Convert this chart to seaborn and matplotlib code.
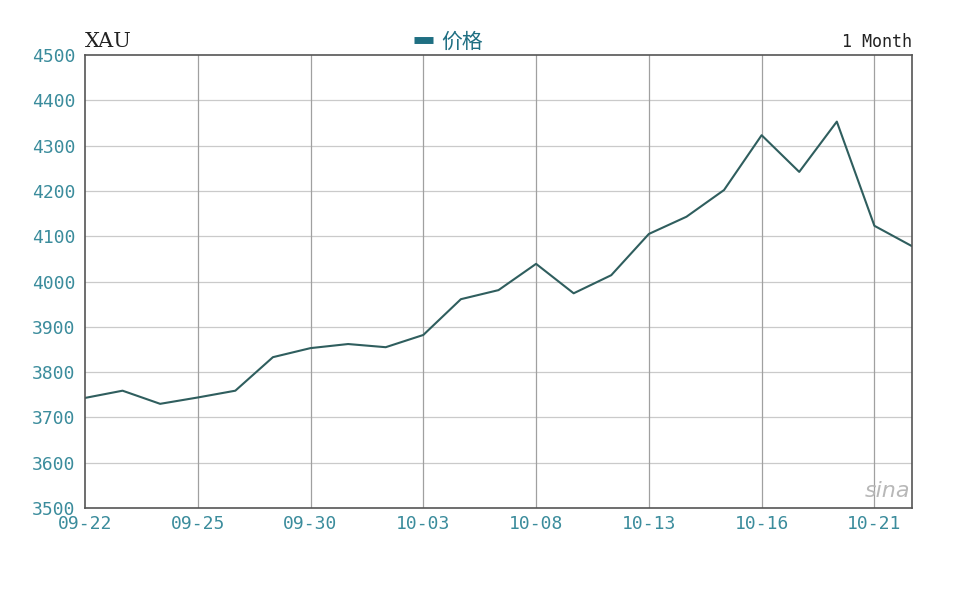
import matplotlib
matplotlib.use("Agg")
import matplotlib.pyplot as plt
import seaborn as sns
import pandas as pd
from matplotlib.lines import Line2D

# daily XAU price
dates = ["09-22", "09-23", "09-24", "09-25", "09-26", "09-29", "09-30",
         "10-01", "10-02", "10-03", "10-06", "10-07", "10-08", "10-09",
         "10-10", "10-13", "10-14", "10-15", "10-16", "10-17", "10-20",
         "10-21", "10-22"]
price = [3743, 3759, 3730, 3744, 3759, 3833, 3853,
         3862, 3855, 3882, 3961, 3981, 4039, 3974,
         4014, 4105, 4143, 4202, 4323, 4242, 4353,
         4123, 4078]
tick_labels = ["09-22", "09-25", "09-30", "10-03", "10-08", "10-13", "10-16", "10-21"]
y_ticks = [3500, 3600, 3700, 3800, 3900, 4000, 4100, 4200, 4300, 4400, 4500]

df = pd.DataFrame({"day": range(len(dates)), "date": dates, "price": price})

sns.set_style("white")
plt.rcParams["font.family"] = ["DejaVu Sans", "Noto Sans CJK SC"]

teal = "#3b8c9c"
line_col = "#2f5e5e"

fig = plt.figure(figsize=(9.6, 6), dpi=100)
ax = fig.add_axes([0.0885, 0.1533, 0.8615, 0.755])

sns.lineplot(data=df, x="day", y="price", color=line_col, linewidth=1.5, ax=ax)

ax.set_xlim(0, len(dates) - 1)
ax.set_ylim(3500, 4500)
ax.set_yticks(y_ticks)
ax.set_yticklabels([str(v) for v in y_ticks])
ax.set_xticks([dates.index(d) for d in tick_labels])
ax.set_xticklabels(tick_labels)

for y in y_ticks[1:-1]:
    ax.axhline(y, color="#cacaca", linewidth=0.9, zorder=0)
for d in tick_labels[1:]:
    ax.axvline(dates.index(d), color="#a0a0a0", linewidth=0.9, zorder=0)

for s in ax.spines.values():
    s.set_color("#555555")
    s.set_linewidth(1.2)

ax.tick_params(axis="both", length=0, labelsize=13, labelcolor=teal, pad=7)
for lab in ax.get_xticklabels() + ax.get_yticklabels():
    lab.set_family("DejaVu Sans Mono")
ax.tick_params(axis="x", pad=5)
ax.set_xlabel("")
ax.set_ylabel("")

fig.text(0.0885, 0.915, "XAU", fontsize=15, family="DejaVu Serif",
         color="#222222", ha="left", va="bottom")
fig.text(0.95, 0.915, "1 Month", fontsize=12, family="DejaVu Sans Mono",
         color="#222222", ha="right", va="bottom")

handle = Line2D([], [], color="#1f6f82", linewidth=5, solid_capstyle="butt")
leg = ax.legend([handle], ["价格"], loc="center", bbox_to_anchor=(0.44, 1.03),
                frameon=False, handlelength=0.9, handletextpad=0.4,
                borderaxespad=0, borderpad=0,
                prop={"family": ["Noto Sans CJK SC"], "size": 15})
for t in leg.get_texts():
    t.set_color("#1f6f82")

fig.text(0.948, 0.165, "sina", fontsize=16, style="italic", color="#b8b8b8",
         ha="right", va="bottom")

fig.savefig("out.png", dpi=100, facecolor="white")
